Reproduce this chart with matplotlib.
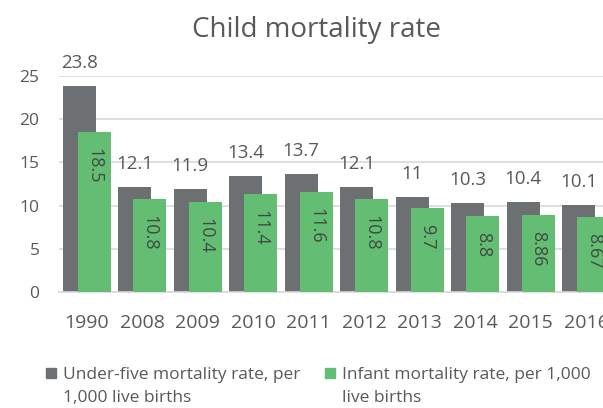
import matplotlib.pyplot as plt
from matplotlib.patches import Rectangle
import numpy as np

# Data
years = ['1990', '2008', '2009', '2010', '2011', '2012', '2013', '2014', '2015', '2016']
under_five = [23.8, 12.1, 11.9, 13.4, 13.7, 12.1, 11, 10.3, 10.4, 10.1]
infant = [18.5, 10.8, 10.4, 11.4, 11.6, 10.8, 9.7, 8.8, 8.86, 8.67]
under_five_lbl = ['23.8', '12.1', '11.9', '13.4', '13.7', '12.1', '11', '10.3', '10.4', '10.1']
infant_lbl = ['18.5', '10.8', '10.4', '11.4', '11.6', '10.8', '9.7', '8.8', '8.86', '8.67']

GRAY = '#6d7073'
GREEN = '#63be74'
TXT = '#595959'
GRID = '#d9d9d9'

plt.rcParams['font.family'] = ['Open Sans', 'DejaVu Sans']

W, H = 603, 408
fig = plt.figure(figsize=(W / 100, H / 100), dpi=100)
# axes spans x 59..614 px (clipped on right), y 76..292 px
ax = fig.add_axes([59 / W, (H - 292) / H, (614 - 59) / W, (292 - 76) / H])

x = np.arange(len(years))
bw = 0.595
off = 0.135
ax.bar(x - off, under_five, bw, color=GRAY, zorder=2)
ax.bar(x + off, infant, bw, color=GREEN, zorder=3)

ax.set_xlim(-0.5, len(years) - 0.5)
ax.set_ylim(0, 25)
ax.set_yticks([0, 5, 10, 15, 20, 25])
ax.yaxis.grid(True, color=GRID, linewidth=1.2, zorder=0)
ax.set_axisbelow(True)
for s in ['top', 'right', 'left']:
    ax.spines[s].set_visible(False)
ax.spines['bottom'].set_color(GRID)
ax.spines['bottom'].set_linewidth(1.2)
ax.tick_params(axis='both', length=0, colors=TXT)
ax.tick_params(axis='y', labelsize=12.5, pad=14)
ax.tick_params(axis='x', labelsize=14, pad=16)
ax.set_xticks(x)
ax.set_xticklabels(years)

# value labels
for xi, v, l in zip(x, under_five, under_five_lbl):
    ax.annotate(l, (xi - off, v), xytext=(0, 23), textcoords='offset pixels',
                ha='center', va='center', fontsize=13.5, color=TXT, annotation_clip=False)
for xi, v, l in zip(x, infant, infant_lbl):
    ax.annotate(l, (xi + off, v), xytext=(0, -16), textcoords='offset pixels',
                ha='center', va='top', rotation=270, fontsize=13, color='#3f4a40',
                zorder=5, annotation_clip=False)

fig.text(316 / W, 1 - 30 / H, 'Child mortality rate', ha='center', va='center',
         fontsize=20, color=TXT)

# legend drawn by hand to keep the wrapped labels aligned as in the reference
leg = [(GRAY, ['Under-five mortality rate, per', '1,000 live births'], 46),
       (GREEN, ['Infant mortality rate, per 1,000', 'live births'], 325)]
for c, lines, px in leg:
    fig.add_artist(Rectangle((px / W, 1 - 378 / H), 10 / W, 10 / H,
                             transform=fig.transFigure, color=c))
    for i, line in enumerate(lines):
        fig.text((px + 17) / W, 1 - (375 + 23 * i) / H, line, ha='left', va='center',
                 fontsize=12.5, color=TXT)

fig.savefig('out.png', dpi=100)
